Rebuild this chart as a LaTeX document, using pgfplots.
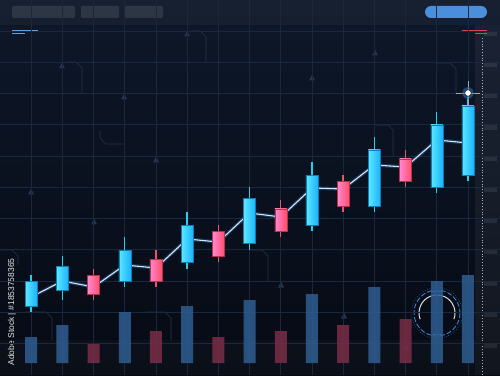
\documentclass[border=0pt]{standalone}
\usepackage{pgfplots}
\pgfplotsset{compat=1.18}
\usepackage{pgfplotstable}
\usepackage{fontspec}
\setmainfont{Liberation Sans}
\definecolor{bgtop}{HTML}{0E182A}
\definecolor{bgbot}{HTML}{060A13}
\definecolor{gridc}{HTML}{19283F}
\definecolor{upL}{HTML}{5AE8FF}
\definecolor{upR}{HTML}{1AB2FF}
\definecolor{upW}{HTML}{22D0F0}
\definecolor{dnL}{HTML}{FF88D2}
\definecolor{dnR}{HTML}{FF4D68}
\definecolor{dnW}{HTML}{F0506A}
\definecolor{volB}{HTML}{2F5E92}
\definecolor{volR}{HTML}{7A2E48}
\definecolor{linec}{HTML}{D2E4FA}
\definecolor{hud}{HTML}{3A8AD8}
\definecolor{pill}{HTML}{4A8FDC}
\definecolor{deco}{HTML}{27344A}

\pgfplotstableread{
x o h l c
1 57 88 51 82
2 73 107 63 97
4 82 126 76 113
6 101 151 94 138
8 120 176 113 165
10 138 201 132 188
12 157 226 151 213
14 176 251 170 238
15 188 266 182 257
}\upcandles
\pgfplotstableread{
x o h l c
3 88 94 63 69
5 104 113 76 82
7 132 138 101 107
9 154 163 126 132
11 182 188 151 157
13 204 213 176 182
}\downcandles
\pgfplotstableread{
x y
1 66
2 82
3 76
4 98
5 95
6 124
7 121
8 150
9 146
10 175
11 174
12 198
13 196
14 223
15 220
}\trend
\pgfplotstableread{
x v
1 26
2 38
4 51
6 57
8 63
10 69
12 76
14 82
15 88
}\volup
\pgfplotstableread{
x v
3 19
5 32
7 26
9 32
11 38
13 44
}\voldown

\begin{document}
\begin{tikzpicture}
% ---- background and decorations in pixel coordinates ----
\begin{scope}[x=1pt,y=-1pt,shift={(0,375pt)}]
  \shade[top color=bgtop,bottom color=bgbot] (0,0) rectangle (500,375);
  \fill[white,opacity=0.035] (0,0) rectangle (500,25);
  \fill[white,opacity=0.025] (0,340) rectangle (475,375);
  \fill[white,opacity=0.05] (475,25) rectangle (500,375);
  \draw[color=gray!60,dotted,line width=0.8pt] (482,38) -- (482,375);
  \foreach \k in {0,...,10} {
    \fill[white,opacity=0.08] (484,{31+31.2*\k}) rectangle (497,{36+31.2*\k});
  }
  % top buttons
  \fill[white,opacity=0.1,rounded corners=2pt] (12,6) rectangle (75,18);
  \fill[white,opacity=0.1,rounded corners=2pt] (81,6) rectangle (119,18);
  \fill[white,opacity=0.1,rounded corners=2pt] (125,6) rectangle (163,18);
  \fill[pill,rounded corners=6pt] (425,6) rectangle (487,18);
  \draw[color=hud!80!white,line width=1.2pt] (12,31) -- (38,31);
  \draw[color=hud!80!white,line width=1pt] (12,34) -- (25,34);
  \draw[color=dnR!85!black,line width=1.2pt] (462,31) -- (487,31);
  \draw[color=dnR!85!black,line width=1pt] (475,34) -- (487,34);
  % faint triangles
  \foreach \p in {(62,66),(124,97),(156,160),(187,34),(375,53),(312,78),(31,192),(94,222),(281,285),(344,316),(406,347)} {
    \fill[deco] \p ++(0,-3.5) -- ++(3,6) -- ++(-6,0) -- cycle;
  }
  % corner brackets
  \draw[deco,line width=0.6pt] (66,62) -- (76,62) -- (82,68) -- (82,93);
  \draw[deco,line width=0.6pt] (191,31) -- (200,31) -- (206,37) -- (206,62);
  \draw[deco,line width=0.6pt] (100,131) -- (100,138) -- (106,144) -- (124,144);
  \draw[deco,line width=0.6pt] (375,125) -- (388,125) -- (393,130) -- (393,156);
  \draw[deco,line width=0.6pt] (437,63) -- (450,63) -- (456,69) -- (456,93);
  \draw[deco,line width=0.6pt] (250,250) -- (262,250) -- (268,256) -- (268,281);
  \draw[deco,line width=0.6pt] (0,250) -- (12,250) -- (18,256) -- (18,265);
  \draw[deco,line width=0.6pt] (25,312) -- (46,312) -- (52,318) -- (52,340);
  \draw[deco,line width=0.6pt] (145,312) -- (165,312) -- (171,318) -- (171,340);
  % HUD circle
  \draw[hud,line width=0.8pt,dash pattern=on 5pt off 2pt] (437,313) circle (23);
  \draw[hud,line width=0.5pt,dotted] (437,313) circle (25.5);
  \draw[white!75!gray,line width=1pt] (437,313) ++(160:18) arc (160:380:18);
  \draw[hud,line width=1pt] (432,334) -- (442,334);
  \draw[hud,line width=1pt] (431,291) -- (443,291);
  % vertical id text
  \node[rotate=90,text=white!80!gray,font=\fontsize{8.5}{9}\selectfont,inner sep=0] at (12,312) {Adobe Stock | \#1853758365};
\end{scope}

\begin{axis}[
  at={(0,0)}, anchor=south west,
  scale only axis, width=500pt, height=375pt,
  xmin=0, xmax=16.026, ymin=-12, ymax=363,
  axis line style={draw=none},
  xtick={1,...,15}, ytick={19.8,51,...,331.8},
  xticklabels={}, yticklabels={},
  major tick length=0pt,
  grid=major, grid style={color=gridc,line width=0.6pt},
  clip=false,
]
% volume
\addplot[ybar, bar width=12pt, bar shift=0pt, draw=none, fill=volB, fill opacity=0.85] table[x=x,y=v] {\volup};
\addplot[ybar, bar width=12pt, bar shift=0pt, draw=none, fill=volR, fill opacity=0.85] table[x=x,y=v] {\voldown};
% wicks
\addplot[only marks, mark=none, error bars/.cd, y dir=both, y explicit, error mark=none,
  error bar style={draw=upW,line width=1.4pt}]
  table[x=x, y expr={(\thisrow{o}+\thisrow{c})/2},
        y error plus expr={\thisrow{h}-(\thisrow{o}+\thisrow{c})/2},
        y error minus expr={(\thisrow{o}+\thisrow{c})/2-\thisrow{l}}] {\upcandles};
\addplot[only marks, mark=none, error bars/.cd, y dir=both, y explicit, error mark=none,
  error bar style={draw=dnW,line width=1.4pt}]
  table[x=x, y expr={(\thisrow{o}+\thisrow{c})/2},
        y error plus expr={\thisrow{h}-(\thisrow{o}+\thisrow{c})/2},
        y error minus expr={(\thisrow{o}+\thisrow{c})/2-\thisrow{l}}] {\downcandles};
% trend line with glow
\addplot[color=hud, line width=3.5pt, opacity=0.3, mark=none] table[x=x,y=y] {\trend};
\addplot[color=linec, line width=1.1pt, mark=none] table[x=x,y=y] {\trend};
% bodies
\addplot[only marks, mark=none,
  visualization depends on={abs(\thisrow{c}-\thisrow{o}) \as \bh},
  nodes near coords={},
  every node near coord/.append style={anchor=center, inner sep=0pt, outer sep=0pt,
     minimum width=12pt, minimum height=\bh pt, left color=upL, right color=upR,
     draw=upR!70!black, line width=0.3pt}]
  table[x=x, y expr={(\thisrow{o}+\thisrow{c})/2}] {\upcandles};
\addplot[only marks, mark=none,
  visualization depends on={abs(\thisrow{c}-\thisrow{o}) \as \bh},
  nodes near coords={},
  every node near coord/.append style={anchor=center, inner sep=0pt, outer sep=0pt,
     minimum width=12pt, minimum height=\bh pt, left color=dnL, right color=dnR,
     draw=dnR!70!black, line width=0.3pt}]
  table[x=x, y expr={(\thisrow{o}+\thisrow{c})/2}] {\downcandles};
% crosshair marker at latest high
\addplot[only marks, mark=+, mark size=12pt, mark options={draw=gray!70, line width=0.8pt}] coordinates {(15,270)};
\addplot[only marks, mark=*, mark size=6pt, mark options={fill=hud, draw=none, opacity=0.45}] coordinates {(15,270)};
\addplot[only marks, mark=*, mark size=3.2pt, mark options={fill=white, draw=none}] coordinates {(15,270)};
\end{axis}
\pgfresetboundingbox
\useasboundingbox (0,0) rectangle (500pt,375pt);
\end{tikzpicture}
\end{document}
